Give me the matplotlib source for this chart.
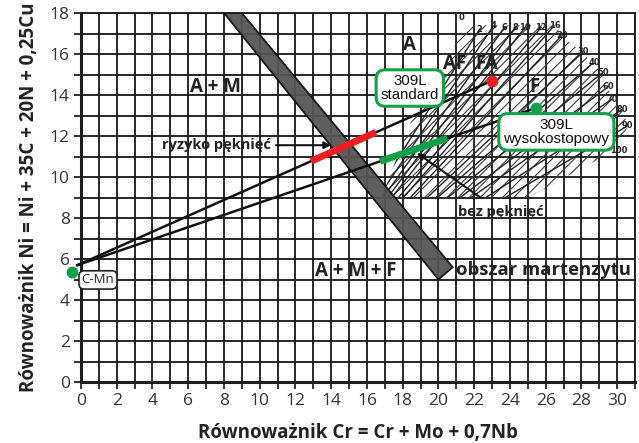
import matplotlib
matplotlib.use('Agg')
import matplotlib.pyplot as plt
import numpy as np
from matplotlib.patches import Polygon

# ---------------- data ----------------
x_ticks = list(range(0, 31, 2))
y_ticks = list(range(0, 19, 2))

# martensite band (parallelogram corners)
band_x = [8.0, 9.0, 20.8, 20.0]
band_y = [18.0, 18.0, 5.6, 5.0]

# hatched ferrite region outline
ferrite_x = [16.8, 25.0, 30.1, 30.6, 30.3, 29.7, 29.5, 29.1, 28.6, 28.0, 26.9, 26.5, 21.5, 20.2, 18.6]
ferrite_y = [9.0, 9.0, 11.4, 12.5, 13.3, 13.8, 14.4, 15.1, 15.6, 16.1, 16.9, 17.4, 17.4, 15.2, 13.0]

# iso-ferrite number lines and their labels
fn_labels = ['0', '2', '4', '6', '8', '10', '12', '16', '20', '30', '40', '50', '60', '70', '80', '90', '100']
fn_label_x = [21.3, 22.3, 23.1, 23.7, 24.3, 24.85, 25.75, 26.5, 26.9, 28.1, 28.7, 29.2, 29.5, 29.7, 30.3, 30.6, 30.1]
fn_label_y = [17.8, 17.2, 17.4, 17.3, 17.3, 17.3, 17.3, 17.4, 16.9, 16.1, 15.6, 15.1, 14.4, 13.8, 13.3, 12.5, 11.3]
fn_origin_x = 12.0
fn_origin_y = 3.0

# dilution lines from C-Mn steel to the two filler metals
cmn_dot = (-0.5, 5.37)
line_start = (-0.2, 5.7)
std_end = (23.0, 14.7)      # 309L standard
high_end = (25.46, 13.37)   # 309L wysokostopowy
risk_x = [12.87, 16.5]      # red segment (crack risk)
safe_x = [16.73, 20.5]      # green segment (no cracks)

GREEN = '#12a04a'
RED = '#ee1c25'

# ---------------- figure ----------------
fig = plt.figure(figsize=(6.39, 4.43), dpi=100)
ax = fig.add_axes([81 / 639, 61 / 443, 554 / 639, 369 / 443])
ax.set_xlim(0, 31)
ax.set_ylim(0, 18)

ax.set_xticks(x_ticks)
ax.set_yticks(y_ticks)
ax.set_xticks(range(0, 32), minor=True)
ax.set_yticks(range(0, 19), minor=True)
ax.tick_params(which='both', direction='out', length=5, width=1.3, color='#222')
ax.tick_params(which='major', labelsize=12.5, labelcolor='#333', pad=3)
for lab in ax.get_xticklabels() + ax.get_yticklabels():
    lab.set_fontfamily('Open Sans')

ax.grid(which='both', color='#1e1e1e', linewidth=1.35, zorder=0.5)
ax.set_axisbelow(True)
for s in ['left', 'bottom']:
    ax.spines[s].set_linewidth(2.2)
    ax.spines[s].set_color('#1e1e1e')
for s in ['top', 'right']:
    ax.spines[s].set_linewidth(1.35)
    ax.spines[s].set_color('#1e1e1e')

# hatched ferrite region
plt.rcParams['hatch.linewidth'] = 0.8
fer = Polygon(np.column_stack([ferrite_x, ferrite_y]), closed=True, facecolor='none',
              edgecolor='#3a3a3a', hatch='///', linewidth=0, zorder=1)
ax.add_patch(fer)

# FN lines clipped to the region
for lx, ly in zip(fn_label_x, fn_label_y):
    ln, = ax.plot([fn_origin_x, lx], [fn_origin_y, ly], color='#222', linewidth=1.0, zorder=1.5)
    ln.set_clip_path(fer)
for t, lx, ly in zip(fn_labels, fn_label_x, fn_label_y):
    ax.text(lx, ly, t, fontsize=6, fontweight='bold', color='#222', ha='center', va='center',
            family='DejaVu Sans', zorder=2)

# martensite band
ax.add_patch(Polygon(np.column_stack([band_x, band_y]), closed=True, facecolor='#555555',
                     edgecolor='#111', linewidth=1.3, alpha=0.95, zorder=3))

# dilution lines
ax.plot([line_start[0], std_end[0]], [line_start[1], std_end[1]], color='#111', linewidth=1.8,
        zorder=4, clip_on=False)
ax.plot([line_start[0], high_end[0]], [line_start[1], high_end[1]], color='#111', linewidth=1.8,
        zorder=4, clip_on=False)

risk_y = np.interp(risk_x, [line_start[0], std_end[0]], [line_start[1], std_end[1]])
safe_y = np.interp(safe_x, [line_start[0], high_end[0]], [line_start[1], high_end[1]])
ax.plot(risk_x, risk_y, color=RED, linewidth=5, solid_capstyle='butt', zorder=5)
ax.plot(safe_x, safe_y, color=GREEN, linewidth=5, solid_capstyle='butt', zorder=5)

ax.plot(*std_end, 'o', color=RED, markersize=7.5, zorder=6)
ax.plot(*high_end, 'o', color=GREEN, markersize=7.5, zorder=6)
ax.plot(*cmn_dot, 'o', color=GREEN, markersize=7.5, zorder=6, clip_on=False)

# region labels
lab_kw = dict(fontsize=13.5, fontweight='bold', color='#222', family='Open Sans', zorder=6)
ax.text(7.5, 14.4, 'A + M', ha='center', va='center', **lab_kw)
ax.text(18.4, 16.45, 'A', ha='center', va='center', **lab_kw)
ax.text(20.9, 15.5, 'AF', ha='center', va='center', **lab_kw)
ax.text(22.7, 15.5, 'FA', ha='center', va='center', **lab_kw)
ax.text(25.4, 14.4, 'F', ha='center', va='center', **lab_kw)
ax.text(15.4, 5.4, 'A + M + F', ha='center', va='center', **lab_kw)
ax.text(21.0, 5.45, 'obszar martenzytu', ha='left', va='center', fontsize=13.3, fontweight='bold',
        color='#222', family='Open Sans', zorder=6, clip_on=False)

# annotations with arrows
ax.annotate('ryzyko pęknięć', xy=(14.0, 11.55), xytext=(10.6, 11.55), ha='right', va='center',
            fontsize=10.5, fontweight='bold', color='#222', family='Open Sans', zorder=7,
            arrowprops=dict(arrowstyle='-|>', color='#111', lw=1.5, shrinkA=2, shrinkB=0,
                            mutation_scale=10))
ax.annotate('bez pęknięć', xy=(18.8, 11.17), xytext=(21.1, 8.3), ha='left', va='center',
            fontsize=10.5, fontweight='bold', color='#222', family='Open Sans', zorder=7,
            arrowprops=dict(arrowstyle='-|>', color='#111', lw=1.5, shrinkA=6, shrinkB=0,
                            mutation_scale=10))

# boxed labels
box_std = dict(boxstyle='round,pad=0.3,rounding_size=0.6', facecolor='white', edgecolor=GREEN, linewidth=2.2)
ax.text(18.4, 14.34, '309L\nstandard', ha='center', va='center', fontsize=10.8, family='Liberation Sans',
        color='#111', linespacing=0.95, bbox=box_std, zorder=8)
box_high = dict(boxstyle='round,pad=0.3,rounding_size=0.6', facecolor='white', edgecolor=GREEN, linewidth=2.2)
ax.text(26.6, 12.2, '309L\nwysokostopowy', ha='center', va='center', fontsize=11, family='Liberation Sans',
        color='#111', linespacing=0.95, bbox=box_high, zorder=8)
box_cmn = dict(boxstyle='round,pad=0.2,rounding_size=0.4', facecolor='white', edgecolor='#222', linewidth=1.2)
ax.text(0.95, 4.98, 'C-Mn', ha='center', va='center', fontsize=9.5, family='Open Sans',
        color='#222', bbox=box_cmn, zorder=8, clip_on=False)

ax.set_xlabel('Równoważnik Cr = Cr + Mo + 0,7Nb', fontsize=13.5, fontweight='bold', family='Open Sans',
              color='#222', labelpad=10)
ax.set_ylabel('Równoważnik Ni = Ni + 35C + 20N + 0,25Cu', fontsize=13.5, fontweight='bold', family='Open Sans',
              color='#222', labelpad=8)

fig.savefig('out.png', dpi=100)
